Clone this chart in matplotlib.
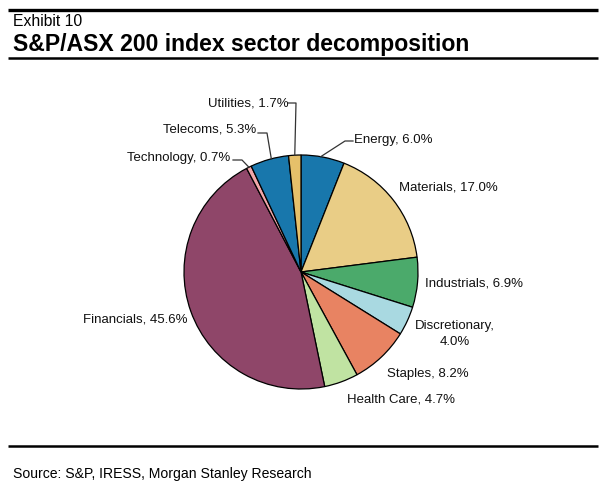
import matplotlib
matplotlib.use("Agg")
import matplotlib.pyplot as plt
import numpy as np

plt.rcParams['font.family'] = ['Liberation Sans', 'DejaVu Sans']

sectors = ["Energy", "Materials", "Industrials", "Discretionary", "Staples",
           "Health Care", "Financials", "Technology", "Telecoms", "Utilities"]
shares = [6.0, 17.0, 6.9, 4.0, 8.2, 4.7, 45.6, 0.7, 5.3, 1.7]
colors = ["#1877AC", "#E9CD86", "#4BAA6B", "#A9D9E1", "#E88362",
          "#C0E3A2", "#8F4669", "#F2A7AA", "#1877AC", "#E6C06A"]

W, H = 602, 488
fig = plt.figure(figsize=(W / 100, H / 100), dpi=100)
ax = fig.add_axes([0, 0, 1, 1])

cx, cy, r = 301, H - 272, 117
wedges, _ = ax.pie(shares, colors=colors, startangle=90, counterclock=False,
                   center=(cx, cy), radius=r, frame=True,
                   wedgeprops=dict(edgecolor='black', linewidth=0.9))
ax.set_xlim(0, W)
ax.set_ylim(0, H)
ax.set_aspect('equal')
ax.axis('off')

def edge_pt(w, frac=0.5):
    ang = np.deg2rad(w.theta1 + frac * (w.theta2 - w.theta1))
    return cx + r * np.cos(ang), cy + r * np.sin(ang)

fs = 9.5
def y(py):
    return H - py

lab = {
    "Energy": ("Energy, 6.0%", 354, 140, 'left'),
    "Materials": ("Materials, 17.0%", 399, 187, 'left'),
    "Industrials": ("Industrials, 6.9%", 425, 284, 'left'),
    "Discretionary": ("Discretionary,\n4.0%", 455, 334, 'center'),
    "Staples": ("Staples, 8.2%", 387, 374, 'left'),
    "Health Care": ("Health Care, 4.7%", 347, 400, 'left'),
    "Financials": ("Financials, 45.6%", 83, 320, 'left'),
    "Technology": ("Technology, 0.7%", 127, 158, 'left'),
    "Telecoms": ("Telecoms, 5.3%", 163, 130, 'left'),
    "Utilities": ("Utilities, 1.7%", 208, 103, 'left'),
}
for name, (t, x, yy, ha) in lab.items():
    ax.text(x, y(yy), t, fontsize=fs, ha=ha, va='center', color='#111111',
            linespacing=1.45)

wd = dict(zip(sectors, wedges))
lk = dict(color='#333333', lw=0.9)
ex, ey = edge_pt(wd["Energy"], 0.55)
ax.plot([ex, 345, 353], [ey, y(141), y(141)], **lk)
ux, uy = edge_pt(wd["Utilities"], 0.5)
ax.plot([288, 296, ux], [y(103), y(103), uy], **lk)
tx, ty = edge_pt(wd["Telecoms"], 0.45)
ax.plot([258, 267, tx], [y(133), y(133), ty], **lk)
gx, gy = edge_pt(wd["Technology"], 0.5)
ax.plot([233, 242, gx], [y(160), y(160), gy], **lk)

ax.plot([8, 598], [y(10), y(10)], color='black', lw=2.4, solid_capstyle='butt')
ax.plot([8, 598], [y(57.5), y(57.5)], color='black', lw=1.8, solid_capstyle='butt')
ax.plot([8, 598], [y(446), y(446)], color='black', lw=1.8, solid_capstyle='butt')
ax.text(13, y(21.5), "Exhibit 10", fontsize=11.3, ha='left', va='center')
ax.text(13, y(45), "S&P/ASX 200 index sector decomposition", fontsize=16.6,
        fontweight='bold', ha='left', va='center')
ax.text(13, y(474), "Source: S&P, IRESS, Morgan Stanley Research", fontsize=10.1,
        ha='left', va='center')

fig.savefig("out.png", dpi=100)
